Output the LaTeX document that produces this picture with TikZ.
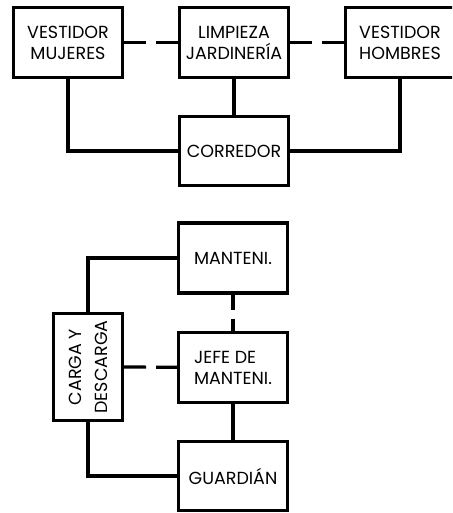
\documentclass[tikz,border=0pt]{standalone}
\usepackage{fontspec}
\setmainfont{Poppins}
\usepackage{tikz}

\begin{document}
\begin{tikzpicture}[x=1pt,y=-1pt,
  caja/.style={draw,line width=3.2pt,minimum width=109pt,minimum height=70pt,inner sep=2pt,align=center,font=\fontsize{17.5}{21}\selectfont},
  enlace/.style={line width=4.4pt},
  punteado/.style={line width=3.2pt,dash pattern=on 22pt off 10pt}]
\useasboundingbox (0,0) rectangle (452,513);
\clip (0,0) rectangle (452,513);
\node[caja] (vm) at (68,42.5){VESTIDOR\\MUJERES};
\node[caja] (lj) at (234,42.5){LIMPIEZA\\JARDINERÍA};
\node[caja] (vh) at (400,42.5){VESTIDOR\\HOMBRES};
\node[caja,minimum height=69pt] (corr) at (234,151){CORREDOR};
\draw[enlace] (vm.south)|-(corr.west);\draw[enlace] (lj)--(corr);\draw[enlace] (vh.south)|-(corr.east);
\draw[punteado] (vm)--(lj);\draw[punteado] (lj)--(vh);
\node[caja] (mant) at (233,258){MANTENI.};
\node[caja,align=left] (jefe) at (233,367.5){JEFE DE\\MANTENI.};
\node[caja,minimum height=69pt] (guard) at (233,476){GUARDIÁN};
\node[caja,minimum width=107pt,minimum height=69pt,rotate=90,font=\fontsize{17.5}{26}\selectfont] (carga) at (88,367){CARGA Y\\DESCARGA};
\draw[enlace] (carga.east)|-(mant.west);\draw[enlace] (carga.west)|-(guard.west);\draw[enlace] (jefe)--(guard);
\draw[punteado,dash pattern=on 15pt off 9pt] (mant)--(jefe);\draw[punteado] (carga.south)--(jefe);
\end{tikzpicture}
\end{document}
